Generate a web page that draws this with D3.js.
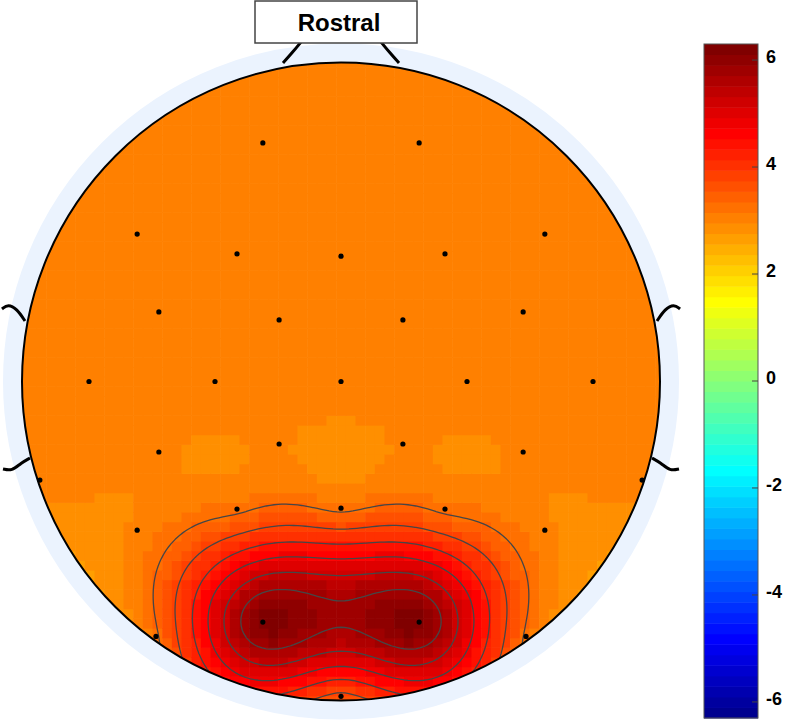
<!DOCTYPE html>
<html>
<head>
<meta charset="utf-8">
<title>Scalp map</title>
<script src="https://cdn.jsdelivr.net/npm/d3@7"></script>
<style>
    body {
        margin: 0;
        padding: 0;
        background-color: white;
    }
    svg { display: block; }
    .label {
        font-family: "Liberation Sans", Arial, sans-serif;
        font-weight: bold;
        fill: black;
    }
</style>
</head>
<body>
<svg id="chart" width="787" height="720"></svg>
<script>
// electrode positions in head radii (x to the right, y towards the nose)
const chanX = [-0.245, 0.245,
    -0.639, -0.326, 0, 0.326, 0.639,
    -0.571, -0.194, 0.194, 0.571,
    -0.790, -0.395, 0, 0.395, 0.790,
    -0.944, -0.571, -0.194, 0.194, 0.571, 0.944,
    -0.639, -0.326, 0, 0.326, 0.639,
    -0.245, 0.245,
    -0.580, 0.580, 0];
const chanY = [0.748, 0.748,
    0.462, 0.400, 0.393, 0.400, 0.462,
    0.218, 0.193, 0.193, 0.218,
    0, 0, 0, 0, 0,
    -0.309, -0.221, -0.196, -0.196, -0.221, -0.309,
    -0.466, -0.400, -0.397, -0.400, -0.466,
    -0.754, -0.754,
    -0.799, -0.799, -0.987];
// value at each electrode
const chanValue = [3.02, 3.02,
    3.05, 3.05, 3.05, 3.05, 3.05,
    3.05, 3.05, 3.05, 3.05,
    3.05, 3.05, 3.05, 3.05, 3.05,
    3.06, 2.97, 2.97, 2.97, 2.97, 3.06,
    3.0, 3.25, 3.25, 3.25, 3.0,
    6.2, 6.2,
    3.28, 3.28, 3.7];

const colorLimits = [-6.3, 6.3];
const colorTicks = [-6, -4, -2, 0, 2, 4, 6];
const contourLevels = [3.34, 3.82, 4.31, 4.79, 5.28, 5.76];
const noseLabel = "Rostral";

const svg = d3.select("#chart");

const cx = 341, cy = 381.5, R = 319;
const x = d3.scaleLinear().domain([-1, 1]).range([cx - R, cx + R]);
const y = d3.scaleLinear().domain([-1, 1]).range([cy + R, cy - R]);

// matlab style jet colormap
function jet(m) {
    const n = Math.ceil(m / 4);
    const u = [];
    for (let i = 1; i <= n; i++) u.push(i / n);
    for (let i = 1; i < n; i++) u.push(1);
    for (let i = n; i >= 1; i--) u.push(i / n);
    const off = Math.ceil(n / 2) - (m % 4 === 1 ? 1 : 0);
    const J = d3.range(m).map(() => [0, 0, 0]);
    u.forEach((val, k) => {
        const g = off + k + 1;
        if (g <= m) J[g - 1][1] = val;
        if (g + n <= m) J[g + n - 1][0] = val;
        if (g - n >= 1) J[g - n - 1][2] = val;
    });
    return J.map(c => d3.rgb(c[0] * 255, c[1] * 255, c[2] * 255).formatHex());
}
const color = d3.scaleQuantize().domain(colorLimits).range(jet(64));

// biharmonic spline through the electrode values
const green = r => r === 0 ? 0 : r * r * (Math.log(r) - 1);
const N = chanX.length;
const A = d3.range(N).map(i => d3.range(N).map(j =>
    green(0.5 * Math.hypot(chanX[i] - chanX[j], chanY[i] - chanY[j]))));

function solve(M, b) {
    const n = b.length;
    M = M.map(r => r.slice()); b = b.slice();
    for (let c = 0; c < n; c++) {
        let p = c;
        for (let r = c + 1; r < n; r++) if (Math.abs(M[r][c]) > Math.abs(M[p][c])) p = r;
        [M[c], M[p]] = [M[p], M[c]]; [b[c], b[p]] = [b[p], b[c]];
        for (let r = c + 1; r < n; r++) {
            const f = M[r][c] / M[c][c];
            for (let k = c; k < n; k++) M[r][k] -= f * M[c][k];
            b[r] -= f * b[c];
        }
    }
    const out = new Array(n).fill(0);
    for (let r = n - 1; r >= 0; r--) {
        let s = b[r];
        for (let k = r + 1; k < n; k++) s -= M[r][k] * out[k];
        out[r] = s / M[r][r];
    }
    return out;
}
const weights = solve(A, chanValue);
function field(px, py) {
    let s = 0;
    for (let j = 0; j < N; j++) s += weights[j] * green(0.5 * Math.hypot(px - chanX[j], py - chanY[j]));
    return s;
}

const defs = svg.append("defs");
defs.append("clipPath").attr("id", "head")
    .append("circle").attr("cx", cx).attr("cy", cy).attr("r", R);

// blocky interpolated map, 67 x 67 grid
const gridN = 67;
const step = 2 / (gridN - 1);
const cells = [];
for (let i = 0; i < gridN; i++) {
    for (let j = 0; j < gridN; j++) {
        const gx = -1 + i * step, gy = -1 + j * step;
        if (Math.hypot(gx, gy) > 1 + step) continue;
        cells.push({ gx, gy, v: field(gx, gy) });
    }
}
const cellPx = x(step) - x(0);
svg.append("g").attr("clip-path", "url(#head)")
    .selectAll("rect").data(cells).join("rect")
    .attr("x", d => x(d.gx) - cellPx / 2)
    .attr("y", d => y(d.gy) - cellPx / 2)
    .attr("width", cellPx + 0.6)
    .attr("height", cellPx + 0.6)
    .attr("fill", d => color(d.v));

// contour lines on a finer grid
const fineN = 171;
const fineLo = -1.05, fineStep = 2.1 / (fineN - 1);
const fine = new Array(fineN * fineN);
for (let r = 0; r < fineN; r++) {
    const gy = -fineLo - r * fineStep;
    for (let c = 0; c < fineN; c++) fine[r * fineN + c] = field(fineLo + c * fineStep, gy);
}
const toPx = d3.geoTransform({
    point: function (px, py) {
        this.stream.point(x(fineLo + (px - 0.5) * fineStep), y(-fineLo - (py - 0.5) * fineStep));
    }
});
const contours = d3.contours().size([fineN, fineN]).thresholds(contourLevels)(fine);
svg.append("g").attr("clip-path", "url(#head)")
    .selectAll("path").data(contours).join("path")
    .attr("d", d3.geoPath(toPx))
    .attr("fill", "none")
    .attr("stroke", "#464646")
    .attr("stroke-width", 1.3);

// light ring round the head
svg.append("circle").attr("cx", cx).attr("cy", cy).attr("r", R + 9.5)
    .attr("fill", "none").attr("stroke", "#ebf3fe").attr("stroke-width", 19);
svg.append("circle").attr("cx", cx).attr("cy", cy).attr("r", R)
    .attr("fill", "none").attr("stroke", "black").attr("stroke-width", 2);

// nose and ears
const line = d3.line().curve(d3.curveBasis);
const features = [
    [[283, 63], [292, 53], [301, 42]],
    [[399, 63], [390, 53], [381, 42]],
    [[2, 309], [8, 304], [17, 309], [25, 321]],
    [[3, 469], [12, 471], [21, 463], [30, 458]],
    [[680, 309], [674, 304], [665, 309], [657, 321]],
    [[679, 469], [670, 471], [661, 463], [652, 458]]
];
svg.append("g").selectAll("path").data(features).join("path")
    .attr("d", line)
    .attr("fill", "none")
    .attr("stroke", "black")
    .attr("stroke-width", 3);

svg.append("rect")
    .attr("x", 255).attr("y", 1).attr("width", 162).attr("height", 42)
    .attr("fill", "white").attr("stroke", "#444").attr("stroke-width", 1.5);
svg.append("text").attr("class", "label")
    .attr("x", 339).attr("y", 31)
    .attr("text-anchor", "middle")
    .style("font-size", "24px")
    .text(noseLabel);

// electrodes
svg.append("g").selectAll("circle").data(chanX).join("circle")
    .attr("cx", (d, i) => x(chanX[i]))
    .attr("cy", (d, i) => y(chanY[i]))
    .attr("r", 2.6)
    .attr("fill", "black");

// colour bar
const barX = 704, barW = 54, barTop = 44, barBottom = 718;
const cb = d3.scaleLinear().domain(colorLimits).range([barBottom, barTop]);
const bands = color.range().map(c => ({ c, lo: color.invertExtent(c)[0], hi: color.invertExtent(c)[1] }));
svg.append("g").selectAll("rect").data(bands).join("rect")
    .attr("x", barX).attr("width", barW)
    .attr("y", d => cb(d.hi))
    .attr("height", d => cb(d.lo) - cb(d.hi) + 0.5)
    .attr("fill", d => d.c);
svg.append("rect")
    .attr("x", barX).attr("y", barTop).attr("width", barW).attr("height", barBottom - barTop)
    .attr("fill", "none").attr("stroke", "#555").attr("stroke-width", 1);
const ticks = svg.append("g").selectAll("g").data(colorTicks).join("g")
    .attr("transform", d => `translate(0,${cb(d)})`);
ticks.append("line")
    .attr("x1", barX + barW - 6).attr("x2", barX + barW)
    .attr("stroke", "#444").attr("stroke-width", 1);
ticks.append("text").attr("class", "label")
    .attr("x", 766).attr("y", -3)
    .attr("dy", "0.35em")
    .style("font-size", "18px")
    .text(d => d < 0 ? "-" + Math.abs(d) : d);
</script>
</body>
</html>
